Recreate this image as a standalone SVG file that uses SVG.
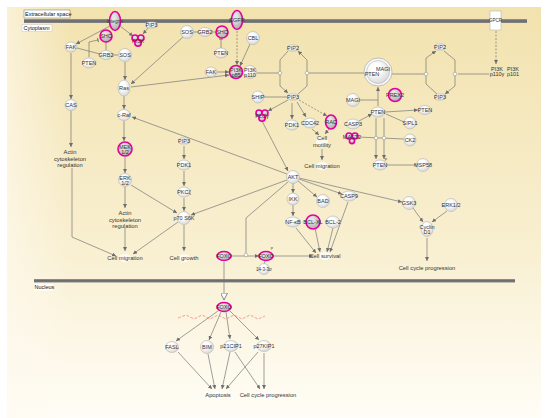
<svg xmlns="http://www.w3.org/2000/svg" width="550" height="418" viewBox="0 0 550 418">
<defs>
<linearGradient id="bg" x1="0" y1="0" x2="0" y2="1">
<stop offset="0" stop-color="#f2e2ae"/>
<stop offset="0.6" stop-color="#f9f0d2"/>
<stop offset="1" stop-color="#fffdf7"/>
</linearGradient>
<linearGradient id="bgl" x1="0" y1="0" x2="1" y2="0">
<stop offset="0" stop-color="#fffaf0" stop-opacity="0.6"/>
<stop offset="0.12" stop-color="#fffaf0" stop-opacity="0"/>
<stop offset="1" stop-color="#fffaf0" stop-opacity="0"/>
</linearGradient>
<linearGradient id="bar" x1="0" y1="0" x2="0" y2="1">
<stop offset="0" stop-color="#999"/>
<stop offset="0.5" stop-color="#666"/>
<stop offset="1" stop-color="#888"/>
</linearGradient>
<radialGradient id="ng" cx="0.4" cy="0.35" r="0.7">
<stop offset="0.3" stop-color="#ffffff"/>
<stop offset="1" stop-color="#d6d6d6"/>
</radialGradient>
<radialGradient id="pg" cx="0.4" cy="0.35" r="0.7">
<stop offset="0.2" stop-color="#e4e4e4"/>
<stop offset="1" stop-color="#a8a8a8"/>
</radialGradient>
<marker id="a" viewBox="0 0 6 6" refX="6" refY="3" markerWidth="4" markerHeight="4" markerUnits="userSpaceOnUse" orient="auto">
<path d="M0,0 L6,3 L0,6 z" fill="#6d6d6d"/>
</marker>
<marker id="h" viewBox="0 0 8 8" refX="8" refY="4" markerWidth="7" markerHeight="7" markerUnits="userSpaceOnUse" orient="auto">
<path d="M0,0 L8,4 L0,8 z" fill="#fff" stroke="#777" stroke-width="1"/>
</marker>
<marker id="t" viewBox="0 0 4 8" refX="2" refY="4" markerWidth="2" markerHeight="5" markerUnits="userSpaceOnUse" orient="auto">
<path d="M2,0 L2,8" stroke="#6d6d6d" stroke-width="2"/>
</marker>
<style>
text{font-family:"Liberation Sans",Arial,sans-serif;font-size:5.5px;fill:#333;text-anchor:middle;dominant-baseline:central}
.n{fill:url(#ng);stroke:#b3b3b3;stroke-width:0.6}
.p{fill:url(#pg);stroke:#e5009b;stroke-width:1.6}
.blob{fill:#fff;opacity:0.75}
.c{fill:none;stroke:#777;stroke-width:0.7}
.ar{marker-end:url(#a)}
.d{stroke-dasharray:2,1.5}
.sc{fill:#fff;stroke:#888;stroke-width:0.5}
.lab{text-anchor:start;font-size:5.5px;fill:#111}
.pr{font-size:5.8px}
</style>
</defs>

<rect x="0" y="0" width="550" height="418" fill="#fff"/>
<rect x="7" y="7" width="534" height="411" fill="url(#bg)"/>
<rect x="7" y="7" width="534" height="411" fill="url(#bgl)"/>

<!-- membranes -->
<rect x="24" y="19" width="503" height="4" fill="url(#bar)"/>
<rect x="34" y="279" width="481" height="3.5" fill="url(#bar)"/>
<g id="lbl-extra"><rect x="24" y="10" width="46" height="8" fill="#fff" stroke="#555" stroke-width="0.4"/><text class="lab" x="25" y="14.2">Extracellular space</text></g>
<g id="lbl-cyto"><rect x="22" y="24.5" width="30" height="7" fill="#fff" stroke="#bbb" stroke-width="0.4"/><text class="lab" x="23.5" y="28.2">Cytoplasm</text></g>
<g id="lbl-nuc"><rect x="34" y="284" width="19" height="6.5" fill="#fff"/><text class="lab" x="34.5" y="287.4">Nucleus</text></g>

<!-- connectors -->
<g id="connectors">
<path class="c ar" d="M110,26 L76,44"/>
<path class="c ar" d="M120,26 L133,36"/>
<path class="c ar" d="M148,28 L143,34"/>
<path class="c" d="M106,42 L106,50"/>
<path class="c" d="M77,48 L100,54"/>
<path class="c" d="M112,55 L118,55"/>
<path class="c" d="M89,57 L89,42 L98,40" marker-end="url(#t)"/>
<path class="c ar" d="M71,53 L71,99"/>
<path class="c ar" d="M71,111 L71,147"/>
<path class="c ar" d="M72,168 L72,237 L116,256"/>
<path class="c ar" d="M125,62 L125,80"/>
<path class="c ar" d="M183,37 L131,84"/>
<path class="c ar" d="M124,96 L124,109"/>
<path class="c ar" d="M124,121 L124,141"/>
<path class="c ar" d="M125,157 L125,173"/>
<path class="c ar" d="M125,187 L125,208"/>
<path class="c ar" d="M131,185 L177,213"/>
<path class="c ar" d="M125,228 L125,251"/>
<path class="c ar" d="M178,222 L133,254"/>
<path class="c ar" d="M184,146 L184,159"/>
<path class="c ar" d="M184,171 L184,186"/>
<path class="c ar" d="M184,198 L184,211"/>
<path class="c ar" d="M184,225 L184,251"/>
<path class="c ar" d="M287,180 L191,215"/>
<path class="c ar" d="M287,174 L132,117"/>
<path class="c" d="M288,182 L246,218 L246,253"/>
<!-- middle top -->
<path class="c" d="M193,32 L199,32"/>
<path class="c" d="M211,32 L216,32"/>
<path class="c" d="M221,48 L221,39" marker-end="url(#t)"/>
<path class="c ar d" d="M237,31 L237,65"/>
<path class="c ar" d="M250,44 L240,66"/>
<path class="c ar" d="M217,72 L229,72"/>
<path class="c ar" d="M131,87 L229,75"/>
<path class="c" d="M257,73 L280,73"/>
<path class="c ar" d="M288,51 L280,60 L280,86 L288,93"/>
<path class="c ar" d="M298,94 L307,86 L307,60 L298,51"/>
<path class="c" d="M307,73 L364,73"/>
<path class="c ar" d="M378,106 L378,87"/>
<path class="c" d="M359,100 L378,100"/>
<path class="c ar" d="M359,121 L372,114"/>
<path class="c ar" d="M385,112 L418,110"/>
<path class="c" d="M386,114 L404,122"/>
<path class="c" d="M358,137 L404,139"/>
<path class="c ar" d="M376,118 L376,159"/>
<path class="c ar" d="M384,118 L384,159"/>
<path class="c" d="M387,165 L416,165"/>
<path class="c ar" d="M292,103 L292,119"/>
<path class="c ar" d="M297,102 L306,117"/>
<path class="c ar d" d="M299,100 L327,116"/>
<path class="c" d="M264,97 L287,97"/>
<path class="c ar" d="M288,100 L268,111"/>
<path class="c ar" d="M262,121 L288,171"/>
<path class="c ar" d="M312,129 L319,135"/>
<path class="c ar" d="M329,129 L325,134"/>
<path class="c ar" d="M322,149 L322,160"/>
<path class="c ar" d="M293,183 L293,193"/>
<path class="c ar" d="M293,205 L293,216"/>
<path class="c ar" d="M298,181 L317,197"/>
<path class="c ar" d="M299,179 L342,194"/>
<path class="c ar" d="M299,178 L402,202"/>
<path class="c ar" d="M296,228 L316,253"/>
<path class="c ar" d="M315,228 L320,252"/>
<path class="c ar" d="M333,228 L327,252"/>
<path class="c ar" d="M348,202 L330,252"/>
<path class="c ar" d="M230,256 L259,256"/>
<path class="c ar" d="M273,256 L313,256"/>
<path class="c" d="M265,261 L264,265"/>
<path class="c" d="M224,262 L224,300" marker-end="url(#h)"/>
<path class="c ar" d="M218,311 L176,341"/>
<path class="c ar" d="M221,312 L209,340"/>
<path class="c ar" d="M226,312 L230,339"/>
<path class="c ar" d="M230,311 L259,340"/>
<path class="c ar" d="M178,352 L212,389"/>
<path class="c ar" d="M208,354 L215,389"/>
<path class="c ar" d="M230,352 L222,389"/>
<path class="c ar" d="M258,352 L226,389"/>
<path class="c ar" d="M235,352 L260,389"/>
<path class="c ar" d="M264,353 L264,389"/>
<path class="c ar" d="M413,208 L423,222"/>
<path class="c ar" d="M447,211 L432,222"/>
<path class="c ar" d="M427,238 L427,261"/>
<path class="c ar d" d="M496,31 L496,64"/>
<path class="c" d="M458,74 L489,74"/>
<path class="c ar" d="M437,94 L426,84 L426,58 L436,51"/>
<path class="c ar" d="M444,51 L455,60 L455,86 L445,94"/>
<path class="c" d="M392,74 L426,74"/>
<path d="M178,318 L186,315 L194,319 L202,315 L210,319 L218,315 L226,319 L234,315 L242,319 L250,315 L258,319 L265,316" fill="none" stroke="#f07a7a" stroke-width="0.7" stroke-dasharray="3,1.5"/>
<circle class="sc" cx="280" cy="73" r="1.8"/>
<circle class="sc" cx="307" cy="73" r="1.8"/>
<circle class="sc" cx="426" cy="74" r="1.8"/>
<circle class="sc" cx="455" cy="74" r="1.8"/>
<circle class="sc" cx="376" cy="138" r="1.8"/>
<circle class="sc" cx="384" cy="138" r="1.8"/>
<circle class="sc" cx="246" cy="255" r="1.8"/>
</g>

<!-- nodes -->
<g id="n-integrin"><ellipse class="p" cx="115" cy="21" rx="5.5" ry="9.5"/><text x="115" y="21" style="font-size:4.8px">Integrin</text></g>
<g id="n-shc1"><circle class="p" cx="106" cy="36" r="6"/><text x="106" y="36">SHC</text></g>
<g id="n-pi3k1"><circle class="p" cx="135" cy="38" r="3"/><circle class="p" cx="141" cy="38" r="3"/><circle class="p" cx="138" cy="43" r="3.2"/><text x="138" y="41">PI3K</text></g>
<g id="n-pip3a"><rect class="n" x="146" y="22" width="11" height="6" rx="3"/><text x="151.5" y="25">PIP3</text></g>
<g id="n-fak1"><ellipse class="n" cx="71" cy="47" rx="6" ry="5"/><text x="71" y="47">FAK</text></g>
<g id="n-grb2a"><ellipse class="n" cx="106" cy="55" rx="6.5" ry="4.5"/><text x="106" y="55">GRB2</text></g>
<g id="n-sos1"><circle class="n" cx="125" cy="55" r="6.5"/><text x="125" y="55">SOS</text></g>
<g id="n-pten1"><ellipse class="n" cx="89" cy="63" rx="6.5" ry="5"/><text x="89" y="63">PTEN</text></g>
<g id="n-ras"><ellipse class="n" cx="124" cy="88" rx="6" ry="8"/><text x="124" y="88">Ras</text></g>
<g id="n-cas"><ellipse class="n" cx="71" cy="105" rx="6" ry="5.5"/><text x="71" y="105">CAS</text></g>
<g id="n-craf"><ellipse class="n" cx="124" cy="115" rx="6.5" ry="5.5"/><text x="124" y="115">c-Raf</text></g>
<g id="n-mek"><circle class="p" cx="125" cy="149" r="7"/><text x="125" y="146.8">MEK</text><text x="125" y="151.8">1/2</text></g>
<g id="n-erk1"><circle class="n" cx="125" cy="180" r="6.5"/><text x="125" y="177.8">ERK</text><text x="125" y="182.8">1/2</text></g>
<g id="n-actinL"><text class="pr" x="70" y="152">Actin</text><text class="pr" x="70" y="158.5">cytoskeleton</text><text class="pr" x="70" y="165">regulation</text></g>
<g id="n-actinR"><text class="pr" x="125" y="213">Actin</text><text class="pr" x="125" y="219.5">cytoskeleton</text><text class="pr" x="125" y="226">regulation</text></g>
<g id="n-cellmig1"><ellipse class="blob" cx="125" cy="258" rx="6" ry="4"/><text class="pr" x="125" y="258">Cell migration</text></g>
<g id="n-pip3b"><rect class="n" x="178.5" y="138" width="11" height="6" rx="3"/><text x="184" y="141">PIP3</text></g>
<g id="n-pdk1a"><ellipse class="n" cx="184" cy="165" rx="6.5" ry="5"/><text x="184" y="165">PDK1</text></g>
<g id="n-pkcz"><ellipse class="n" cx="184" cy="192" rx="6.5" ry="5"/><text x="184" y="192">PKCζ</text></g>
<g id="n-p70"><circle class="n" cx="184" cy="218" r="6.5"/><text x="184" y="218">p70 S6K</text></g>
<g id="n-cellgrowth"><ellipse class="blob" cx="184" cy="258" rx="6" ry="4"/><text class="pr" x="184" y="258">Cell growth</text></g>

<g id="n-sos2"><circle class="n" cx="187" cy="32" r="6.5"/><text x="187" y="32">SOS</text></g>
<g id="n-grb2b"><ellipse class="n" cx="205" cy="32" rx="6.5" ry="4.5"/><text x="205" y="32">GRB2</text></g>
<g id="n-shc2"><circle class="p" cx="222" cy="32" r="6"/><text x="222" y="32">SHC</text></g>
<g id="n-pten2"><ellipse class="n" cx="221" cy="53" rx="6.5" ry="5"/><text x="221" y="53">PTEN</text></g>
<g id="n-egfr"><ellipse class="p" cx="237" cy="20" rx="5.5" ry="9.5"/><text x="237" y="20">EGFR</text></g>
<g id="n-cbl"><circle class="n" cx="253" cy="38" r="6.5"/><text x="253" y="38">CBL</text></g>
<g id="n-fak2"><ellipse class="n" cx="211" cy="72" rx="6" ry="5"/><text x="211" y="72">FAK</text></g>
<g id="n-pi3k85"><circle class="p" cx="236" cy="72" r="6.5"/><text x="236" y="69.8">PI3K</text><text x="236" y="74.8">p85</text></g>
<g id="n-pi3k110"><circle class="n" cx="250" cy="72" r="6.5"/><text x="250" y="69.8">PI3K</text><text x="250" y="74.8">p110</text></g>
<g id="n-ship"><circle class="n" cx="258" cy="97" r="6"/><text x="258" y="97">SHIP</text></g>
<g id="n-plc"><circle class="p" cx="259" cy="113" r="3"/><circle class="p" cx="265" cy="113" r="3"/><circle class="p" cx="262" cy="118" r="3.2"/><text x="262" y="116">PLCγ</text></g>
<g id="n-pip2a"><rect class="n" x="287.5" y="45" width="11" height="6" rx="3"/><text x="293" y="48">PIP2</text></g>
<g id="n-pip3c"><rect class="n" x="287.5" y="94" width="11" height="6" rx="3"/><text x="293" y="97">PIP3</text></g>
<g id="n-complex"><circle cx="378" cy="72" r="14" fill="#fafafa" stroke="#999" stroke-width="0.6"/><circle class="n" cx="378" cy="72" r="11.5"/><text x="372" y="74">PTEN</text><text x="383" y="69">MAGI</text></g>
<g id="n-prex2"><circle class="p" cx="395" cy="95" r="6.5"/><text x="395" y="95">PREX2</text></g>
<g id="n-magi"><circle class="n" cx="353" cy="100" r="6.5"/><text x="353" y="100">MAGI</text></g>
<g id="n-pten3"><ellipse class="n" cx="378" cy="112" rx="7" ry="5"/><text x="378" y="112">PTEN</text></g>
<g id="n-casp3"><ellipse class="n" cx="353" cy="124" rx="7" ry="5"/><text x="353" y="124">CASP3</text></g>
<g id="n-mast2"><circle class="p" cx="349" cy="136" r="3"/><circle class="p" cx="355" cy="136" r="3"/><circle class="p" cx="352" cy="141" r="2.6"/><text x="352" y="137">MAST2</text></g>
<g id="n-pten4"><ellipse class="n" cx="425" cy="110" rx="6.5" ry="4.5"/><text x="425" y="110">PTEN</text></g>
<g id="n-sipl1"><circle class="n" cx="410" cy="123" r="6"/><text x="410" y="123">SIPL1</text></g>
<g id="n-ck2"><circle class="n" cx="410" cy="140" r="6"/><text x="410" y="140">CK2</text></g>
<g id="n-pten5"><ellipse class="n" cx="380" cy="165" rx="7" ry="5"/><text x="380" y="165">PTEN</text><text x="386" y="159.5" style="font-size:3.5px">P</text></g>
<g id="n-msp58"><circle class="n" cx="423" cy="165" r="6.5"/><text x="423" y="165">MSP58</text></g>
<g id="n-pdk1b"><ellipse class="n" cx="292" cy="125" rx="6.5" ry="5"/><text x="292" y="125">PDK1</text></g>
<g id="n-cdc42"><ellipse class="n" cx="310" cy="123" rx="7" ry="5"/><text x="310" y="123">CDC42</text></g>
<g id="n-rac"><ellipse class="p" cx="331" cy="122" rx="5.5" ry="7"/><text x="331" y="122">RAC</text></g>
<g id="n-motility"><ellipse class="blob" cx="322" cy="142" rx="6" ry="5"/><text class="pr" x="322" y="138">Cell</text><text class="pr" x="322" y="145">motility</text></g>
<g id="n-cellmig2"><ellipse class="blob" cx="322" cy="166" rx="6" ry="4"/><text class="pr" x="322" y="166">Cell migration</text></g>
<g id="n-pip2b"><rect class="n" x="434.5" y="44" width="11" height="6" rx="3"/><text x="440" y="47">PIP2</text></g>
<g id="n-pip3d"><rect class="n" x="434.5" y="94" width="11" height="6" rx="3"/><text x="440" y="97">PIP3</text></g>
<g id="n-gpcr"><rect x="490" y="11" width="11" height="19" fill="#fff" stroke="#aaa" stroke-width="0.5"/><text x="495.5" y="20.5" style="font-size:4.5px">GPCR</text></g>
<g id="n-p110g"><text x="497" y="69">PI3K</text><text x="497" y="74">p110γ</text></g>
<g id="n-p101"><text x="513" y="69">PI3K</text><text x="513" y="74">p101</text></g>

<g id="n-akt"><circle class="n" cx="293" cy="177" r="6.5"/><text x="293" y="177">AKT</text></g>
<g id="n-ikk"><circle class="n" cx="293" cy="199" r="6"/><text x="293" y="199">IKK</text></g>
<g id="n-bad"><circle class="n" cx="323" cy="201" r="6.5"/><text x="323" y="201">BAD</text></g>
<g id="n-casp9"><ellipse class="n" cx="349" cy="196" rx="7.5" ry="5"/><text x="349" y="196">CASP9</text></g>
<g id="n-nfkb"><ellipse class="n" cx="293" cy="222" rx="7.5" ry="5"/><text x="293" y="222">NF-κB</text></g>
<g id="n-bclxl"><circle class="p" cx="313" cy="222" r="7"/><text x="313" y="222">BCL-XL</text></g>
<g id="n-bcl2"><ellipse class="n" cx="333" cy="222" rx="7" ry="6"/><text x="333" y="222">BCL-2</text></g>
<g id="n-survival"><ellipse class="blob" cx="325" cy="256" rx="6" ry="4"/><text class="pr" x="325" y="256">Cell survival</text></g>
<g id="n-gsk3"><circle class="n" cx="409" cy="203" r="6.5"/><text x="409" y="203">GSK3</text></g>
<g id="n-erk2"><circle class="n" cx="451" cy="205" r="6.5"/><text x="451" y="205">ERK1/2</text></g>
<g id="n-cyclind1"><ellipse class="n" cx="427" cy="229" rx="6" ry="7.5"/><text x="427" y="226.5">Cyclin</text><text x="427" y="231.5">D1</text></g>
<g id="n-ccp1"><text class="pr" x="427" y="268">Cell cycle progression</text></g>

<g id="n-foxo1"><ellipse class="p" cx="224" cy="256" rx="7" ry="4.5"/><text x="224" y="256">FOXO</text></g>
<g id="n-foxo2"><ellipse class="p" cx="266" cy="256" rx="7" ry="4.5"/><text x="266" y="256">FOXO</text><text x="272" y="249" style="font-size:3.5px">P</text></g>
<g id="n-1433"><circle class="n" cx="264" cy="269" r="5.5"/><text x="264" y="269" style="font-size:4.5px">14-3-3σ</text></g>
<g id="n-foxo3"><ellipse class="p" cx="224" cy="307" rx="7" ry="4.5"/><text x="224" y="307">FOXO</text></g>
<g id="n-fasl"><ellipse class="n" cx="172" cy="347" rx="6.5" ry="5.5"/><text x="172" y="347">FASL</text></g>
<g id="n-bim"><circle class="n" cx="207" cy="347" r="6.5"/><text x="207" y="347">BIM</text></g>
<g id="n-p21"><ellipse class="n" cx="231" cy="346" rx="7" ry="5.5"/><text x="231" y="346">p21CIP1</text></g>
<g id="n-p27"><ellipse class="n" cx="264" cy="346" rx="7" ry="5.5"/><text x="264" y="346">p27KIP1</text></g>
<g id="n-apoptosis"><ellipse class="blob" cx="218" cy="395" rx="6" ry="4"/><text class="pr" x="218" y="395">Apoptosis</text></g>
<g id="n-ccp2"><ellipse class="blob" cx="264" cy="395" rx="6" ry="4"/><text class="pr" x="268" y="395">Cell cycle progression</text></g>
</svg>
